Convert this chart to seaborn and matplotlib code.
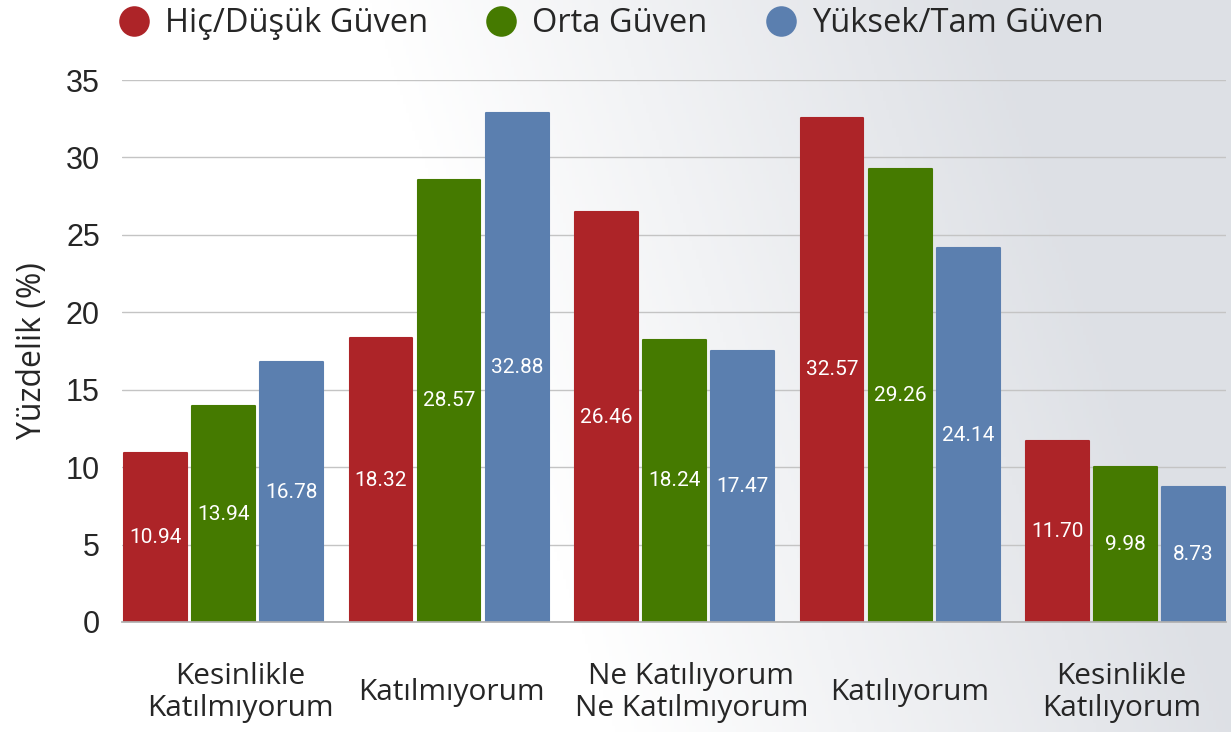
import matplotlib.pyplot as plt
import matplotlib.transforms as mtransforms
import numpy as np
import pandas as pd
import seaborn as sns
from matplotlib.lines import Line2D

categories = [
    "Kesinlikle\nKatılmıyorum",
    "Katılmıyorum",
    "Ne Katılıyorum\nNe Katılmıyorum",
    "Katılıyorum",
    "Kesinlikle\nKatılıyorum",
]
series = ["Hiç/Düşük Güven", "Orta Güven", "Yüksek/Tam Güven"]
low_trust = [10.94, 18.32, 26.46, 32.57, 11.70]
mid_trust = [13.94, 28.57, 18.24, 29.26, 9.98]
high_trust = [16.78, 32.88, 17.47, 24.14, 8.73]
colors = ["#ad2428", "#457a00", "#5b7faf"]

df = pd.DataFrame({
    "kategori": categories * 3,
    "grup": [s for s in series for _ in categories],
    "deger": low_trust + mid_trust + high_trust,
})

sns.set_theme(style="white")
plt.rcParams["font.family"] = ["Open Sans", "DejaVu Sans"]

fig = plt.figure(figsize=(12.31, 7.32), dpi=100)

# soft grey wash on the right side, like the photo background
gx = np.linspace(0, 1, 400)
gy = np.linspace(0, 1, 240)
xx, yy = np.meshgrid(gx, gy)
wash = np.clip((xx - 0.5 + 0.2 * (1 - yy)) * 2.0, 0, 1)
bg = np.ones((240, 400, 3))
for k, c in enumerate([0.87, 0.88, 0.9]):
    bg[..., k] = 1 - (1 - c) * wash
bg_ax = fig.add_axes([0, 0, 1, 1], zorder=-5)
bg_ax.imshow(bg, aspect="auto", extent=[0, 1, 0, 1])
bg_ax.axis("off")

ax = fig.add_axes([0.0991, 0.1503, 0.8968, 0.7404])
ax.patch.set_alpha(0)

sns.barplot(data=df, x="kategori", y="deger", hue="grup", palette=colors,
            width=0.905, gap=0.075, ax=ax, legend=False, saturation=1,
            linewidth=0)

# slightly rounded bar corners
for p in ax.patches:
    p.set_edgecolor(p.get_facecolor())
    p.set_linewidth(1.5)
    p.set_joinstyle("round")

for cont in ax.containers:
    ax.bar_label(cont, fmt="%.2f", label_type="center", color="white",
                 fontsize=15, family=["Roboto", "DejaVu Sans"])

ax.set_ylim(0, 35)
ax.set_xlim(-0.45, 4.445)
ax.set_yticks(range(0, 36, 5))
ax.yaxis.grid(True, color="#c4c4c4", linewidth=1)
ax.set_axisbelow(True)
for side in ["top", "right", "left"]:
    ax.spines[side].set_visible(False)
ax.spines["bottom"].set_color("#b0b0b0")
ax.tick_params(axis="y", length=0, pad=16, labelsize=22)
ax.tick_params(axis="x", length=0, pad=51, labelsize=21.5)
for t in ax.get_yticklabels():
    t.set_family(["Liberation Sans", "DejaVu Sans"])
# the labels in the original sit a little off their group centres
label_shift = [12, 2, 12, 7, -3]
for t, dx in zip(ax.get_xticklabels(), label_shift):
    t.set_verticalalignment("center")
    t.set_linespacing(1.15)
    t.set_transform(t.get_transform() + mtransforms.ScaledTranslation(dx / 72, 0, fig.dpi_scale_trans))
ax.set_xlabel("")
ax.set_ylabel("Yüzdelik (%)", fontsize=23, labelpad=12)

handles = [Line2D([], [], marker="o", linestyle="", markersize=22,
                  markerfacecolor=c, markeredgewidth=0) for c in colors]
fig.legend(handles, series, loc="upper center", bbox_to_anchor=(0.496, 1.03),
           ncol=3, frameon=False, fontsize=23.5, columnspacing=1.75,
           handlelength=1.0, handletextpad=0.45)

fig.savefig("out.png", dpi=100)
